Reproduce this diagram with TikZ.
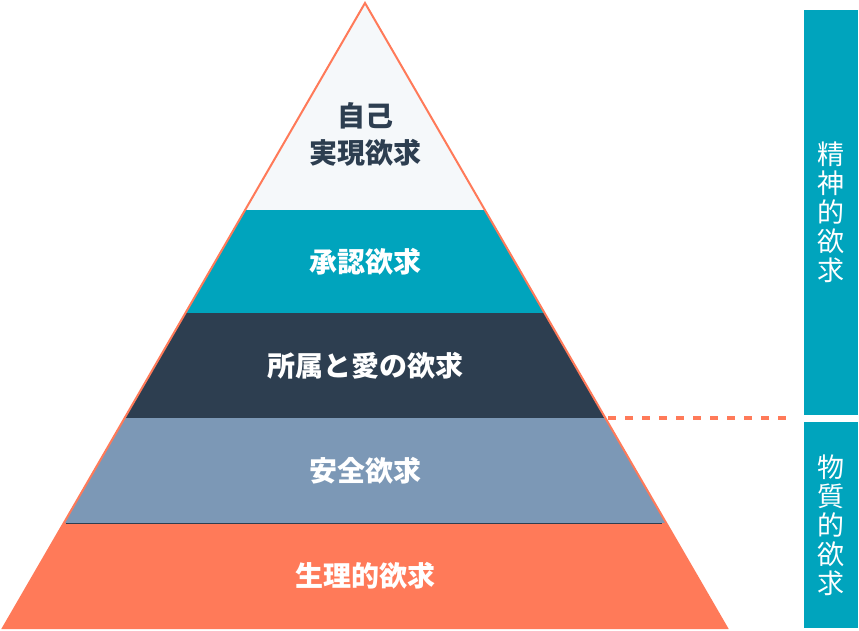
\documentclass[tikz,border=0pt]{standalone}
\usepackage{fontspec}
\newfontfamily\jpfont{Noto Sans CJK JP}
\usetikzlibrary{calc,positioning}
\definecolor{hsorange}{HTML}{FF7A59}
\definecolor{hsteal}{HTML}{00A4BD}
\definecolor{hsnavy}{HTML}{2D3E50}
\definecolor{hsslate}{HTML}{7C98B6}
\definecolor{hslight}{HTML}{F5F8FA}
\tikzstyle{level}=[
  font={\jpfont\bfseries\fontsize{28}{37}\selectfont},
  text=white,
  align=center,
  inner sep=0pt,
]
\tikzstyle{side}=[
  fill=hsteal,
  text=white,
  font={\jpfont\fontsize{27}{29}\selectfont},
  align=center,
  inner sep=0pt,
  minimum width=54pt,
  anchor=north west,
]
\tikzstyle{outline}=[
  draw=hsorange,
  line width=2pt,
  line join=miter,
]
\tikzstyle{divider}=[
  draw=hsorange,
  line width=3.5pt,
  dash pattern=on 8pt off 9pt,
  shorten >=11pt,
]
\tikzset{
  x=1pt,
  y=-1pt,
}
\begin{document}
\begin{tikzpicture}
      \useasboundingbox [fill=white] (0,0) rectangle (859,630);
      \coordinate (apex) at (365,3);
      \coordinate (baseL) at (3,628);
      \coordinate (baseR) at (727,628);
      % bands, top to bottom
      \fill [hslight] (apex) -- ($(apex)!0.3312!(baseR)$) -- ($(apex)!0.3312!(baseL)$) -- cycle;
      \fill [hsteal] ($(apex)!0.3312!(baseL)$) -- ($(apex)!0.3312!(baseR)$) -- ($(apex)!0.496!(baseR)$) -- ($(apex)!0.496!(baseL)$) -- cycle;
      \fill [hsnavy] ($(apex)!0.496!(baseL)$) -- ($(apex)!0.496!(baseR)$) -- ($(apex)!0.664!(baseR)$) -- ($(apex)!0.664!(baseL)$) -- cycle;
      \fill [hsslate] ($(apex)!0.664!(baseL)$) -- ($(apex)!0.664!(baseR)$) -- ($(apex)!0.832!(baseR)$) -- ($(apex)!0.832!(baseL)$) -- cycle;
      \fill [hsorange] ($(apex)!0.832!(baseL)$) -- ($(apex)!0.832!(baseR)$) -- (baseR) -- (baseL) -- cycle;
      \draw [hsnavy, line width=0.8pt] ($(apex)!0.832!(baseL)+(2,0)$) -- ($(apex)!0.832!(baseR)-(4,0)$);
      \draw [outline] (apex) -- (baseR) -- (baseL) -- cycle;
      % labels
      \node (selfact) [level, text=hsnavy] at (365,134) {自己\\実現欲求};
      \node (esteem) [level] at (365,262) {承認欲求};
      \node (belong) [level] at (365,366) {所属と愛の欲求};
      \node (safety) [level] at (365,471) {安全欲求};
      \node (physio) [level] at (365,576) {生理的欲求};
      % side bars
      \node (mental) [side, minimum height=405pt] at (804,10) {精\\神\\的\\欲\\求};
      \node (material) [side, minimum height=206pt] at (804,422) {物\\質\\的\\欲\\求};
      \coordinate (split) at ($(apex)!0.664!(baseR)+(3,0)$);
      \draw [divider] (split) -- (split -| mental.west);
    \end{tikzpicture}
\end{document}
